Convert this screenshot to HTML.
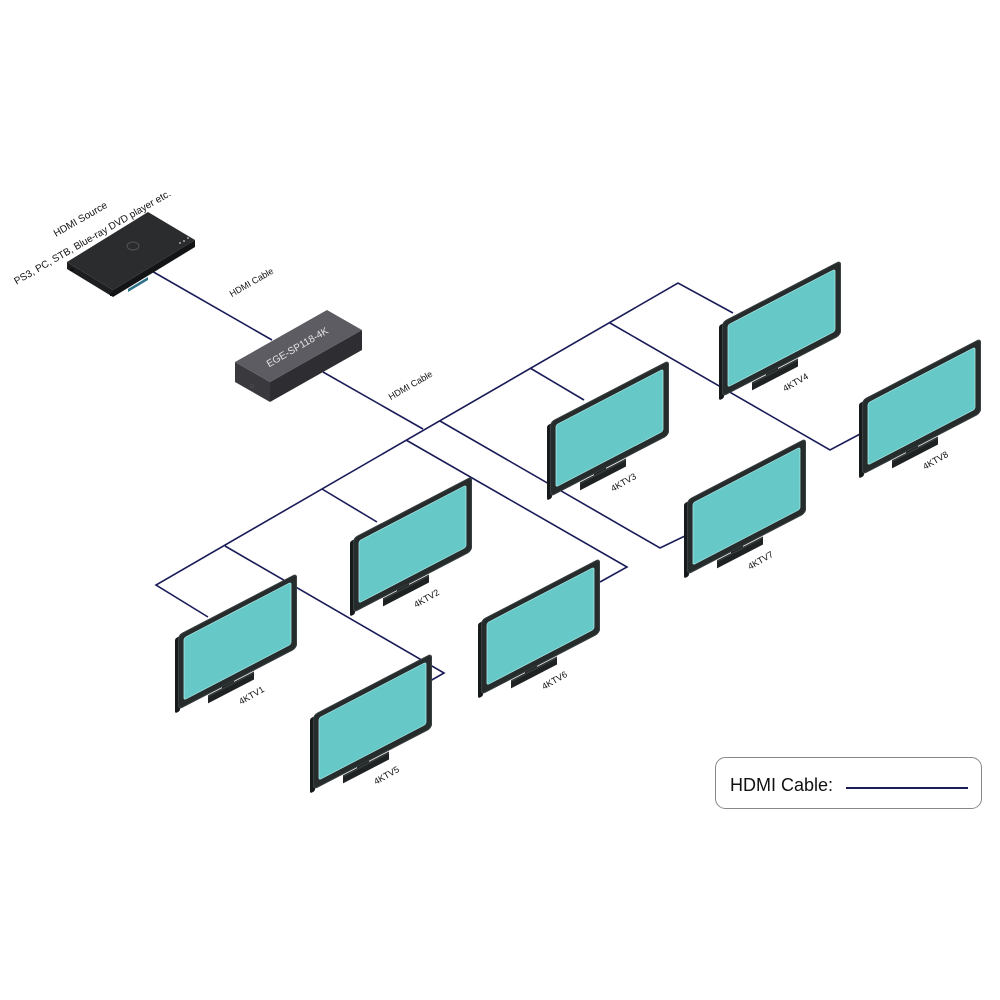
<!DOCTYPE html>
<html><head><meta charset="utf-8"><style>
html,body{margin:0;padding:0;background:#fff;}
svg{display:block;}
text{font-family:"Liberation Sans",sans-serif;}
</style></head><body>
<svg width="1000" height="1000" viewBox="0 0 1000 1000" xmlns="http://www.w3.org/2000/svg">
<defs>
<g id="tv">
  <rect x="44" y="70" width="12" height="9" fill="#1b1e1f"/>
  <rect x="30" y="76" width="46" height="8" fill="#1e2223"/>
  <rect x="30" y="76" width="46" height="2" fill="#34393a"/>
  <rect x="-3" y="2" width="5" height="75" rx="2" fill="#171a1b"/>
  <rect x="0" y="0" width="119" height="75" rx="4" fill="#262b2c"/>
  <rect x="0.5" y="0.5" width="118" height="74" rx="4" fill="none" stroke="#3a4142" stroke-width="1"/>
  <rect x="6" y="6" width="107" height="62" rx="2" fill="#66c9c8" stroke="#a8e6e4" stroke-width="0.8"/>
</g>
</defs>

<g fill="none" stroke="#1a1c58" stroke-width="1.6">
  <line x1="150" y1="270" x2="272" y2="340"/>
  <line x1="323" y1="372" x2="423" y2="429"/>
  <polyline points="733,313 678,283 156,585 208,617"/>
  <polyline points="610,323 830,450 862,433"/>
  <line x1="530" y1="368" x2="584" y2="400"/>
  <polyline points="440,421 660,548 687,535"/>
  <polyline points="406,440 627,567 600,582"/>
  <line x1="322" y1="489" x2="377" y2="522"/>
  <polyline points="225,546 444,673 430,681"/>
</g>

<g>
  <polygon points="67,262 113,290 113,297 67,269" fill="#1c1e1f"/>
  <polygon points="113,290 195,240 195,247 113,297" fill="#121415"/>
  <polygon points="67,262 148,212 195,240 113,290" fill="#2a2c2e"/>
  <ellipse cx="133" cy="246" rx="6" ry="4" fill="none" stroke="#555" stroke-width="1"/>
  <polygon points="128,289 148,277 148,280 128,292" fill="#2b6f86"/>
  <circle cx="180" cy="243" r="1" fill="#aaa"/><circle cx="184" cy="241" r="1" fill="#aaa"/><circle cx="188" cy="238" r="1" fill="#aaa"/>
  <rect x="70" y="268" width="4" height="3" fill="#111"/><rect x="110" y="293" width="4" height="3" fill="#111"/>
</g>
<text transform="translate(82,222) rotate(-30)" font-size="10" text-anchor="middle" fill="#111">HDMI Source</text>
<text transform="translate(94,240) rotate(-30)" font-size="10" text-anchor="middle" fill="#111">PS3, PC, STB, Blue-ray DVD player etc.</text>
<text transform="translate(253,285) rotate(-30)" font-size="9" text-anchor="middle" fill="#111">HDMI Cable</text>

<g>
  <polygon points="235,362 270,382 270,402 235,382" fill="#3a393e"/>
  <polygon points="270,382 362,330 362,350 270,402" fill="#2e2d32"/>
  <polygon points="235,362 327,310 362,330 270,382" fill="#5d5c62"/>
  <circle cx="252" cy="386" r="1.5" fill="none" stroke="#555" stroke-width="0.6"/>
</g>
<text transform="translate(299,350) rotate(-30)" font-size="10" text-anchor="middle" fill="#e6e6e6">EGE-SP118-4K</text>
<text transform="translate(412,388) rotate(-30)" font-size="9" text-anchor="middle" fill="#111">HDMI Cable</text>

<use href="#tv" transform="matrix(1,-0.52,0,1,722,322)"/>
<use href="#tv" transform="matrix(1,-0.52,0,1,862,400)"/>
<use href="#tv" transform="matrix(1,-0.52,0,1,550,422)"/>
<use href="#tv" transform="matrix(1,-0.52,0,1,687,500)"/>
<use href="#tv" transform="matrix(1,-0.52,0,1,353,538)"/>
<use href="#tv" transform="matrix(1,-0.52,0,1,481,620)"/>
<use href="#tv" transform="matrix(1,-0.52,0,1,178,635)"/>
<use href="#tv" transform="matrix(1,-0.52,0,1,313,715)"/>

<g font-size="9" fill="#111" text-anchor="middle">
  <text transform="translate(797,385) rotate(-30)">4KTV4</text>
  <text transform="translate(937,463) rotate(-30)">4KTV8</text>
  <text transform="translate(625,485) rotate(-30)">4KTV3</text>
  <text transform="translate(762,563) rotate(-30)">4KTV7</text>
  <text transform="translate(428,601) rotate(-30)">4KTV2</text>
  <text transform="translate(556,683) rotate(-30)">4KTV6</text>
  <text transform="translate(253,698) rotate(-30)">4KTV1</text>
  <text transform="translate(388,778) rotate(-30)">4KTV5</text>
</g>

<rect x="715.5" y="757.5" width="266" height="51" rx="10" fill="#fff" stroke="#888" stroke-width="1"/>
<text x="730" y="791" font-size="18" fill="#111">HDMI Cable:</text>
<line x1="846" y1="788" x2="968" y2="788" stroke="#1a1c58" stroke-width="2"/>
</svg>
</body></html>
